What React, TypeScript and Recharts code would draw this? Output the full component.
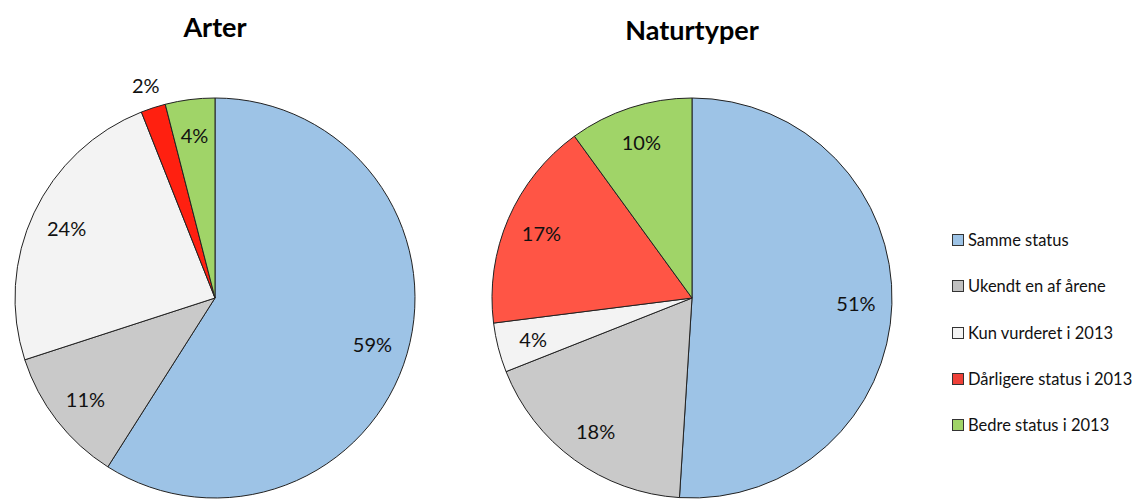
import { PieChart, Pie, Cell } from "recharts";

const categories = [
  "Samme status",
  "Ukendt en af årene",
  "Kun vurderet i 2013",
  "Dårligere status i 2013",
  "Bedre status i 2013",
];

const arterValues = [59, 11, 24, 2, 4];
const naturtyperValues = [51, 18, 4, 17, 10];

const arterColors = ["#9DC3E6", "#C9C9C9", "#F3F3F3", "#FF2010", "#A0D468"];
const naturColors = ["#9DC3E6", "#C9C9C9", "#F3F3F3", "#FF5545", "#A0D468"];
const legendColors = ["#9DC3E6", "#C0C0C0", "#F3F3F3", "#EE4038", "#A0D468"];

const arterData = categories.map((name, i) => ({ name, value: arterValues[i] }));
const naturData = categories.map((name, i) => ({ name, value: naturtyperValues[i] }));

const FONT = "Lato, 'Open Sans', sans-serif";
const RADIAN = Math.PI / 180;

const renderLabel = (props: any) => {
  const { cx, cy, midAngle, outerRadius, value } = props;
  const factor = value < 3 ? 1.12 : 0.82;
  const r = outerRadius * factor;
  const x = cx + r * Math.cos(-midAngle * RADIAN);
  const y = cy + r * Math.sin(-midAngle * RADIAN);
  return (
    <text
      x={x}
      y={y}
      fill="#111"
      fontSize={20}
      fontFamily={FONT}
      textAnchor="middle"
      dominantBaseline="central"
    >
      {`${value}%`}
    </text>
  );
};

const LegendBlock = () => (
  <div
    style={{
      position: "absolute",
      left: 952,
      top: 217,
      width: 182,
      fontFamily: FONT,
      fontSize: 16.5,
      color: "#111",
    }}
  >
    {categories.map((c, i) => (
      <div
        key={c}
        style={{ display: "flex", alignItems: "center", height: 46.3, whiteSpace: "nowrap" }}
      >
        <span
          style={{
            width: 10,
            height: 10,
            background: legendColors[i],
            border: "1px solid #333",
            marginRight: 4,
            display: "inline-block",
            flexShrink: 0,
          }}
        />
        {c}
      </div>
    ))}
  </div>
);

const titleStyle = (left: number, top: number) => ({
  position: "absolute" as const,
  left,
  width: 240,
  top,
  textAlign: "center" as const,
  fontFamily: FONT,
  fontWeight: 700,
  fontSize: 27,
});

export default function App() {
  return (
    <div
      style={{
        position: "absolute",
        left: 0,
        top: 0,
        width: 1134,
        height: 500,
        background: "#fff",
      }}
    >
      <PieChart width={1134} height={500} margin={{ top: 0, right: 0, bottom: 0, left: 0 }}>
        <Pie
          data={arterData}
          dataKey="value"
          nameKey="name"
          cx={215}
          cy={298}
          outerRadius={200}
          startAngle={90}
          endAngle={-270}
          stroke="#222"
          strokeWidth={1}
          label={renderLabel}
          labelLine={false}
          isAnimationActive={false}
        >
          {arterData.map((d, i) => (
            <Cell key={d.name} fill={arterColors[i]} />
          ))}
        </Pie>
        <Pie
          data={naturData}
          dataKey="value"
          nameKey="name"
          cx={692}
          cy={298}
          outerRadius={200}
          startAngle={90}
          endAngle={-270}
          stroke="#222"
          strokeWidth={1}
          label={renderLabel}
          labelLine={false}
          isAnimationActive={false}
        >
          {naturData.map((d, i) => (
            <Cell key={d.name} fill={naturColors[i]} />
          ))}
        </Pie>
      </PieChart>
      <div style={titleStyle(95, 10)}>Arter</div>
      <div style={titleStyle(572, 13)}>Naturtyper</div>
      <LegendBlock />
    </div>
  );
}
